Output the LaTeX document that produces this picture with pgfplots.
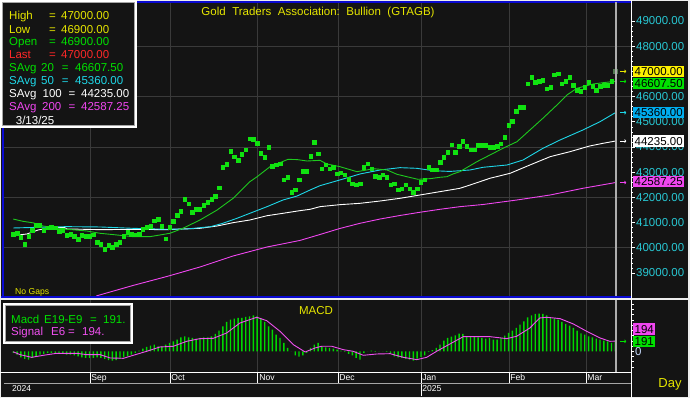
\documentclass[border=0pt]{standalone}
\usepackage{fontspec}
\setmainfont{Liberation Sans}
\usepackage{pgfplots}
\pgfplotsset{compat=1.18}
\usepackage{pgfplotstable}
\usetikzlibrary{arrows.meta}
\definecolor{bg}{RGB}{20,20,20}
\definecolor{gridc}{RGB}{58,58,58}
\definecolor{ptg}{RGB}{16,226,16}
\definecolor{ma20}{RGB}{30,200,30}
\definecolor{ma50}{RGB}{30,215,232}
\definecolor{ma200}{RGB}{240,70,240}
\definecolor{ylw}{RGB}{230,230,0}
\definecolor{lgreen}{RGB}{0,225,0}
\definecolor{lred}{RGB}{255,40,40}
\definecolor{tickc}{RGB}{40,200,212}
\definecolor{blueb}{RGB}{10,10,210}
\definecolor{macdg}{RGB}{0,215,0}
\definecolor{sigm}{RGB}{240,80,240}
\definecolor{zeroc}{RGB}{200,220,255}
\definecolor{lastpt}{RGB}{80,120,80}
\newcommand\fs{\fontsize{11.5}{13}\selectfont}
\newcommand\fsm{\fontsize{8.6}{10}\selectfont}

\pgfplotstableread{
i v
0 40535
1 40575
2 40429
3 40151
4 40468
5 40706
6 40905
7 40905
8 40706
9 40796
10 40810
11 40800
12 40667
13 40706
14 40508
15 40548
16 40468
17 40349
18 40508
19 40468
20 40468
21 40520
22 40218
23 40139
24 39952
25 40111
26 40032
27 40151
28 40218
29 40468
30 40614
31 40548
32 40520
33 40548
34 40734
35 40813
36 40865
37 41076
38 41131
39 40865
40 40362
41 40813
42 41052
43 41302
44 41448
45 41924
46 41750
47 41409
48 41540
49 41540
50 41687
51 41806
52 41937
53 42044
54 42385
55 43206
56 43313
57 43841
58 43615
59 43484
60 43710
61 43893
62 44329
63 44306
64 44147
65 43750
66 43591
67 43988
68 43234
69 43298
70 43338
71 42703
72 42798
73 42202
74 42306
75 42703
76 43036
77 43036
78 43643
79 44186
80 43735
81 43140
82 43298
83 43140
84 43206
85 42941
86 42980
87 42901
88 42719
89 42544
90 42504
91 42544
92 43194
93 43338
94 43140
95 42837
96 42798
97 42901
98 42798
99 42504
100 42544
101 42306
102 42346
103 42504
104 42346
105 42202
106 42346
107 42600
108 42703
109 43194
110 43100
111 43100
112 43393
113 43591
114 43790
115 44091
116 43790
117 44028
118 44226
119 44028
120 43893
121 43893
122 44079
123 44079
124 44079
125 43988
126 43988
127 44028
128 44131
129 44385
130 44873
131 45020
132 45417
133 45575
134 45575
135 46512
136 46766
137 46567
138 46607
139 46659
140 46314
141 46369
142 46869
143 46909
144 46512
145 46607
146 46766
147 46460
148 46262
149 46210
150 46369
151 46567
152 46421
153 46262
154 46421
155 46460
156 46460
157 46607
}\closes

\pgfplotstableread{
i v
0 41140
2.5 41052
5.2 40990
7.8 40865
10.4 40800
14.1 40734
19.3 40667
22.8 40575
27.2 40508
31.4 40442
35.9 40442
41.1 40575
44.5 40773
49 41103
53.5 41500
57.7 41964
62.1 42623
64 42821
67.4 43220
72.1 43510
74.5 43500
77.1 43444
80.5 43471
82.3 43325
85.7 43220
90.2 43020
92.8 43088
94.4 43140
98.1 43088
100.7 42917
103.3 42821
106.2 42718
109.4 42743
112 42798
113.8 42821
115.4 42929
117.2 43020
121.7 43418
125.1 43682
128.5 43947
132.2 44211
135.6 44675
139 45139
142.7 45667
145.3 46063
147.9 46329
149.5 46392
152.2 46500
154.8 46552
158 46607.5
}\savgA

\pgfplotstableread{
i v
0 40786
9.6 40826
14 40839
22.8 40826
31.4 40773
40.3 40734
45.6 40747
51.8 40839
55 40972
58.7 41170
62.1 41369
66.6 41632
70.8 41897
74.5 42055
77.9 42294
80.5 42465
85.7 42691
91 42929
96.3 43088
101.5 43180
105.9 43154
110.2 43060
114.6 43030
119.9 43088
123.3 43194
129.6 43286
133.8 43484
139 43947
143.5 44278
149.5 44675
154 45004
158 45360
}\savgB

\pgfplotstableread{
i v
0 40480
3.6 40548
6.5 40706
9.6 40800
13.5 40800
14.1 40747
22.8 40720
31.4 40730
40.3 40720
49 40773
53.5 40865
57.7 40997
62.1 41103
66.6 41273
70.8 41369
75.2 41473
77.9 41527
80.5 41632
85.7 41711
91 41765
96.3 41857
101.5 41964
106.7 42095
112 42228
117.2 42360
119.9 42492
125.1 42758
130.4 42956
135.6 43286
140.9 43615
146.1 43814
151.3 44040
154.8 44147
158 44235
}\savgC

\pgfplotstableread{
i v
21.8 38090
31.4 38504
40.3 38861
49 39238
57.7 39675
66.6 40032
75.2 40290
80.5 40528
85.7 40766
91 40972
96.3 41143
101.5 41282
106.7 41409
112 41528
117.2 41631
123.3 41718
132.2 41897
140.9 42095
149.5 42361
158 42587.25
}\savgD

\pgfplotstableread{
i v
0 -32
1 -64
2 -115
3 -146
4 -159
5 -127
6 -96
7 -64
8 -51
9 -32
10 -32
11 -32
12 -45
13 -51
14 -64
15 -64
16 -76
17 -96
18 -115
19 -127
20 -127
21 -127
22 -115
23 -127
24 -146
25 -166
26 -178
27 -166
28 -140
29 -115
30 -96
31 -64
32 -32
33 13
34 51
35 83
36 108
37 127
38 96
39 96
40 127
41 159
42 191
43 223
44 268
45 287
46 268
47 255
48 242
49 255
50 268
51 268
52 287
53 331
54 395
55 478
56 561
57 605
58 624
59 637
60 637
61 656
62 669
63 688
64 669
65 624
66 561
67 478
68 414
69 319
70 255
71 159
72 64
73 0
74 -76
75 -102
76 -76
77 -32
78 64
79 127
80 159
81 96
82 76
83 64
84 51
85 32
86 13
87 -13
88 -51
89 -76
90 -127
91 -159
92 -32
93 0
94 13
95 -13
96 0
97 0
98 -13
99 -32
100 -96
101 -115
102 -127
103 -146
104 -159
105 -178
106 -140
107 -108
108 -76
109 -13
110 25
111 64
112 127
113 204
114 255
115 280
116 306
117 338
118 331
119 287
120 287
121 287
122 268
123 255
124 242
125 255
126 223
127 223
128 255
129 299
130 350
131 395
132 446
133 510
134 573
135 650
136 688
137 713
138 720
139 713
140 688
141 650
142 624
143 605
144 561
145 522
146 490
147 446
148 395
149 344
150 318
151 287
152 268
153 242
154 223
155 204
156 191
157 159
158 191
}\macd

\pgfplotstableread{
i v
0 -10
1.8 -64
4.8 -115
7.9 -76
11.4 -38
16.6 -38
19.3 -64
22.8 -64
25.4 -127
28.9 -134
31.5 -76
35 0
38.5 83
42 96
45.5 191
49 242
52.5 248
56 350
59.5 541
63.9 650
66.5 586
70 382
73.5 127
76.6 -13
79.2 64
80.9 96
83.6 96
86.6 32
89.2 0
91.9 -76
95.4 -51
98.9 -45
102.4 -115
105.9 -159
108.5 -115
111.1 0
114.6 140
118.1 280
125.1 280
129.5 242
132.1 287
135.6 446
138.2 637
140 650
143.5 624
147 522
150.5 382
154 255
156.6 191
158 194
}\signal

\tikzset{lg/.style={anchor=west, inner sep=0pt, text height=8.2pt, text depth=0pt, font=\fs},
  vbox/.style={anchor=west, inner xsep=1.5pt, inner ysep=0pt, text height=8.2pt, text depth=0pt, minimum height=11.5pt, font=\fs, text=black}}

\begin{document}
\begin{tikzpicture}[x=1pt,y=1pt]
\path[use as bounding box] (0,0) rectangle (690,398);
\fill[white!93!black] (0,0) rectangle (690,398);
\fill[bg] (1,1) rectangle (688,397);

% ---------------- price panel ----------------
\begin{axis}[
  at={(4pt,102pt)}, anchor=south west, scale only axis,
  width=627pt, height=294pt,
  xmin=-2.44, xmax=162.13, ymin=38087, ymax=49754,
  axis line style={draw=none},
  xtick={20.13,41.13,64.2,85.2,107,130.1,150.3}, xticklabels={},
  xmajorgrids, xtick style={draw=none},
  ytick={39000,40000,...,49000},
  yticklabels={39000.00,40000.00,41000.00,42000.00,43000.00,44000.00,45000.00,46000.00,47000.00,48000.00,49000.00},
  ytick pos=right, yticklabel pos=right,
  minor y tick num=4,
  tick align=outside, major tick length=4pt, minor tick length=2pt,
  ytick style={white, line width=0.6pt},
  yticklabel style={font=\fs, text=tickc, anchor=west, inner sep=0pt, xshift=1pt},
  extra y ticks={40000,42000,44000,46000,48000}, extra y tick labels={},
  extra y tick style={grid=major, major tick length=0pt},
  grid style={gridc, line width=0.8pt},
]
\addplot[ma200, line width=0.9pt] table[x=i,y=v]{\savgD};
\addplot[white, line width=0.9pt] table[x=i,y=v]{\savgC};
\addplot[ma50, line width=0.9pt] table[x=i,y=v]{\savgB};
\addplot[ma20, line width=0.9pt] table[x=i,y=v]{\savgA};
\addplot[only marks, mark=square*, mark size=1.9pt, color=ptg, mark options={xscale=0.9}] table[x=i,y=v]{\closes};
\addplot[only marks, mark=square*, mark size=1.9pt, color=lastpt, mark options={xscale=0.9}] coordinates {(158,47000)};
\coordinate (p1) at (axis cs:158,47000);
\coordinate (p2) at (axis cs:158,46607.5);
\coordinate (p3) at (axis cs:158,45360);
\coordinate (p4) at (axis cs:158,44235);
\coordinate (p5) at (axis cs:158,42587.25);
\coordinate (ct) at (axis cs:158.1,49754);
\coordinate (cb) at (axis cs:158.1,38087);
\end{axis}

% ---------------- MACD panel ----------------
\begin{axis}[
  at={(4pt,26pt)}, anchor=south west, scale only axis,
  width=627pt, height=72pt,
  xmin=-2.44, xmax=162.13, ymin=-395, ymax=980,
  axis line style={draw=none},
  xtick={20.13,41.13,64.2,85.2,107,130.1,150.3}, xticklabels={},
  xmajorgrids, xtick style={draw=none},
  ytick={-300,-200,...,900},
  yticklabels={,,,0,,,,,,,,,},
  ytick pos=right, yticklabel pos=right,
  tick align=outside, major tick length=3pt,
  ytick style={white, line width=0.6pt},
  yticklabel style={font=\fs, text=zeroc, anchor=west, inner sep=0pt, xshift=1pt},
  grid style={gridc, line width=0.8pt},
]
\addplot[ybar, bar width=1.4pt, bar shift=0pt, fill=macdg, draw=none] table[x=i,y=v]{\macd};
\addplot[sigm, line width=0.9pt] table[x=i,y=v]{\signal};
\coordinate (m1) at (axis cs:158,191);
\coordinate (mt) at (axis cs:158.1,980);
\coordinate (mb) at (axis cs:158.1,-395);
\end{axis}

% ---------------- month row ----------------
\begin{axis}[
  at={(4pt,14pt)}, anchor=south west, scale only axis,
  width=627pt, height=11pt,
  xmin=-2.44, xmax=162.13, ymin=0, ymax=1,
  axis line style={draw=none}, ytick=\empty,
  xtick={20.13,41.13,64.2,85.2,107,130.1,150.3},
  xticklabels={Sep,Oct,Nov,Dec,Jan,Feb,Mar},
  xmajorgrids, grid style={white, line width=0.8pt},
  major tick length=0pt, xtick style={draw=none},
  xticklabel pos=right,
  xticklabel style={anchor=north west, font=\fsm, text=white, inner sep=1.2pt},
]
\addplot[draw=none] coordinates {(0,0)};
\end{axis}

% ---------------- year row ----------------
\begin{axis}[
  at={(4pt,2pt)}, anchor=south west, scale only axis,
  width=627pt, height=12pt,
  xmin=-2.44, xmax=162.13, ymin=0, ymax=1,
  axis line style={draw=none}, ytick=\empty,
  xtick={107}, xticklabels={2025},
  xmajorgrids, grid style={white, line width=0.8pt},
  extra x ticks={-0.7}, extra x tick labels={2024}, extra x tick style={grid=none},
  major tick length=0pt, xtick style={draw=none},
  xticklabel pos=right,
  xticklabel style={anchor=north west, font=\fsm, text=white, inner sep=1.2pt},
]
\addplot[draw=none] coordinates {(0,0)};
\end{axis}

% ---------------- frame lines ----------------
\fill[white!93!black] (0,97.6) rectangle (690,100.2);
\fill[blueb] (1,100.2) rectangle (631,101.8);
\fill[blueb] (1.5,100.2) rectangle (4,396);
\fill[blueb] (137,395) rectangle (631,396.8);
\fill[white] (0,24.6) rectangle (631,26);
\draw[gray!70, line width=0.7pt] (4,14.3) -- (631,14.3);
\fill[white] (630.6,0) rectangle (631.8,398);

% cursor line
\draw[white!68!black, line width=1.8pt] (ct) -- (cb);
\draw[white!68!black, line width=1.8pt] (mt) -- (mb);

% arrows and value boxes (price)
\foreach \p/\c in {p1/ylw, p2/lgreen, p3/ma50, p4/white, p5/ma200}{
  \draw[\c, line width=0.8pt, -{To[length=2pt,width=3.5pt]}] (\p) ++(5,0) -- ++(6,0);
}
\node[vbox, fill=yellow] at (633,326.5) {47000.00};
\node[vbox, fill=lgreen] at (633,314.6) {46607.50};
\node[vbox, fill=cyan] at (633,285.4) {45360.00};
\node[vbox, fill=white] at (633,257) {44235.00};
\node[vbox, fill=ma200] at (633,216.4) {42587.25};

% MACD value boxes
\draw[lgreen, line width=0.8pt, -{To[length=2pt,width=3.5pt]}] (m1) ++(5,0) -- ++(6,0);
\node[vbox, fill=ma200, minimum width=21pt] at (633,69) {194};
\node[vbox, fill=lgreen, minimum width=21pt] at (633,56.6) {191};

% titles
\node[ylw, font=\fs, text height=8.2pt, text depth=0pt, inner sep=0pt] at (318,387) {Gold\hspace{6.5pt}Traders\hspace{6.5pt}Association:\hspace{6.5pt}Bullion\hspace{6.5pt}(GTAGB)};
\node[ylw, font=\fs, text height=8.2pt, text depth=0pt, inner sep=0pt] at (316,87.3) {MACD};
\node[ylw, font=\fsm, anchor=west, inner sep=0pt, text height=6.2pt, text depth=0pt] at (15,106.3) {No Gaps};
\node[ylw, font=\fontsize{13}{15}\selectfont, inner sep=0pt, text height=9.4pt, text depth=0pt] at (670,15) {Day};

% ---------------- legend box ----------------
\fill[bg] (0,270) rectangle (137,398);
\draw[white, line width=2pt] (1,271) rectangle (136,397);
\draw[white!65!black, line width=0.8pt] (2.6,272.6) rectangle (134.4,395.4);
\node[lg, ylw] at (9,382.3) {High};
\node[lg, ylw] at (49,382.3) {=};
\node[lg, ylw] at (61,382.3) {47000.00};
\node[lg, ylw] at (9,369) {Low};
\node[lg, ylw] at (49,369) {=};
\node[lg, ylw] at (61,369) {46900.00};
\node[lg, lgreen] at (9,356.3) {Open};
\node[lg, lgreen] at (49,356.3) {=};
\node[lg, lgreen] at (61,356.3) {46900.00};
\node[lg, lred] at (9,343.7) {Last};
\node[lg, lred] at (49,343.7) {=};
\node[lg, lred] at (61,343.7) {47000.00};
\node[lg, lgreen] at (9,330.3) {SAvg};
\node[lg, lgreen] at (41,330.3) {20};
\node[lg, lgreen] at (61.7,330.3) {=};
\node[lg, lgreen] at (75,330.3) {46607.50};
\node[lg, ma50] at (9,317.7) {SAvg};
\node[lg, ma50] at (41,317.7) {50};
\node[lg, ma50] at (61.7,317.7) {=};
\node[lg, ma50] at (75,317.7) {45360.00};
\node[lg, white] at (9,304.7) {SAvg};
\node[lg, white] at (42.5,304.7) {100};
\node[lg, white] at (68.3,304.7) {=};
\node[lg, white] at (81,304.7) {44235.00};
\node[lg, ma200] at (9,291.3) {SAvg};
\node[lg, ma200] at (42,291.3) {200};
\node[lg, ma200] at (68.3,291.3) {=};
\node[lg, ma200] at (81,291.3) {42587.25};
\node[lg, white] at (15.7,278) {3/13/25};

% ---------------- MACD legend box ----------------
\fill[bg] (3,54) rectangle (133,95);
\draw[white, line width=1.6pt] (3.8,54.8) rectangle (132.2,94.2);
\draw[white!65!black, line width=0.7pt] (5.4,56.4) rectangle (130.6,92.6);
\node[lg, lgreen] at (11,79) {Macd};
\node[lg, lgreen] at (44,79) {E19-E9};
\node[lg, lgreen] at (90,79) {=};
\node[lg, lgreen] at (103,79) {191.};
\node[lg, sigm] at (11,66.7) {Signal};
\node[lg, sigm] at (51,66.7) {E6};
\node[lg, sigm] at (68,66.7) {=};
\node[lg, sigm] at (82,66.7) {194.};
\end{tikzpicture}
\end{document}
